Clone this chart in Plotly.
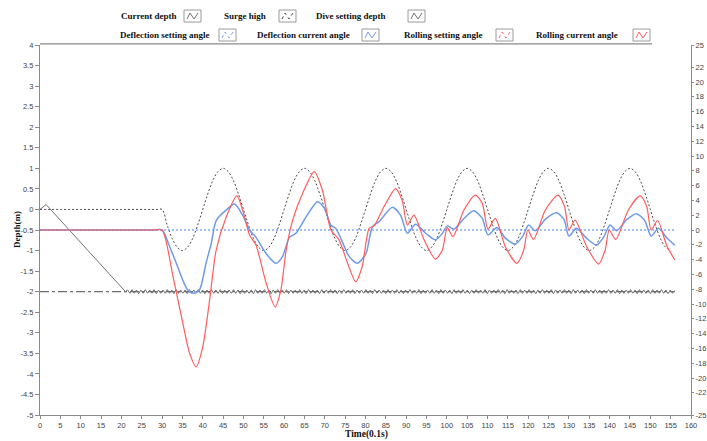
import numpy as np
import plotly.graph_objects as go

# ---- data -------------------------------------------------------------
# Current depth (m): start-up ramp, then small oscillation around -2 m
depth_ramp_t = [0.0, 1.5]
depth_ramp_v = [0.0, 0.12]
depth_osc_v = [
    -2.00, -1.96, -2.04, -1.95, -2.04, -1.96, -2.05, -1.96, -2.04, -1.95,
    -2.04, -1.96, -2.04, -1.95, -2.05, -1.96, -2.04, -1.96, -2.04, -1.95,
    -2.04, -1.96, -2.05, -1.95, -2.04, -1.96, -2.04, -1.96, -2.05, -1.95,
    -2.04, -1.96, -2.04, -1.95, -2.04, -1.96, -2.05, -1.96, -2.04, -1.95,
    -2.04, -1.96, -2.04, -1.95, -2.05, -1.96, -2.04, -1.96, -2.04, -1.95,
    -2.04, -1.96, -2.05, -1.95, -2.04, -1.96, -2.04, -1.96, -2.05, -1.95,
    -2.04, -1.96, -2.04, -1.95, -2.04, -1.96, -2.05, -1.96, -2.04, -1.95,
    -2.04, -1.96, -2.04, -1.95, -2.05, -1.96, -2.04, -1.96, -2.04, -1.95,
    -2.04, -1.96, -2.05, -1.95, -2.04, -1.96, -2.04, -1.96, -2.05, -1.95,
    -2.04, -1.96, -2.04, -1.95, -2.04, -1.96, -2.05, -1.96, -2.04, -1.95,
    -2.04, -1.96, -2.04, -1.95, -2.05, -1.96, -2.04, -1.96, -2.04, -1.95,
    -2.04, -1.96, -2.05, -1.95, -2.04, -1.96, -2.04, -1.96, -2.05, -1.95,
    -2.04, -1.96, -2.04, -1.95, -2.04, -1.96, -2.05, -1.96, -2.04, -1.95,
    -2.04, -1.96, -2.04, -1.95, -2.05, -1.96, -2.04, -1.96, -2.04, -1.95,
    -2.04, -1.96, -2.05, -1.95, -2.04, -1.96, -2.04, -1.96, -2.05, -1.95,
    -2.04, -1.96, -2.04, -1.95, -2.04, -1.96, -2.05, -1.96, -2.04, -1.95,
    -2.04, -1.96, -2.04, -1.95, -2.05, -1.96, -2.04, -1.96, -2.04, -1.95,
    -2.04, -1.96, -2.05, -1.95, -2.04, -1.96, -2.04, -1.96, -2.05, -1.95,
    -2.04, -1.96, -2.04, -1.95, -2.04, -1.96, -2.05, -1.96, -2.04, -1.95,
    -2.04, -1.96, -2.04, -1.95, -2.05, -1.96, -2.04, -1.96, -2.04, -1.95,
    -2.04, -1.96, -2.05, -1.95, -2.04, -1.96, -2.04, -1.96, -2.05, -1.95,
    -2.04, -1.96, -2.04, -1.95, -2.04, -1.96, -2.05, -1.96, -2.04, -1.95,
    -2.04, -1.96, -2.04, -1.95, -2.05, -1.96, -2.04, -1.96, -2.04, -1.95,
    -2.04, -1.96, -2.05, -1.95, -2.04, -1.96, -2.04, -1.96, -2.05, -1.95,
    -2.04, -1.96, -2.04, -1.95, -2.04, -1.96, -2.05, -1.96, -2.04, -1.97,
]
depth_osc_start, depth_osc_end = 21.0, 156.0

# Surge high (m): flat, then a wave from t = 30
surge_flat_t = [0.0, 10.0, 20.0, 27.5, 28.75]
surge_flat_v = [0.0, 0.0, 0.0, 0.0, 0.0]
surge_wave_v = [
    0.00, -0.38, -0.71, -0.92, -1.00, -0.92, -0.71, -0.38,
    0.00, 0.38, 0.71, 0.92, 1.00, 0.92, 0.71, 0.38,
    0.00, -0.38, -0.71, -0.92, -1.00, -0.92, -0.71, -0.38,
    0.00, 0.38, 0.71, 0.92, 1.00, 0.92, 0.71, 0.38,
    0.00, -0.38, -0.71, -0.92, -1.00, -0.92, -0.71, -0.38,
    0.00, 0.38, 0.71, 0.92, 1.00, 0.92, 0.71, 0.38,
    0.00, -0.38, -0.71, -0.92, -1.00, -0.92, -0.71, -0.38,
    0.00, 0.38, 0.71, 0.92, 1.00, 0.92, 0.71, 0.38,
    0.00, -0.38, -0.71, -0.92, -1.00, -0.92, -0.71, -0.38,
    0.00, 0.38, 0.71, 0.92, 1.00, 0.92, 0.71, 0.38,
    0.00, -0.38, -0.71, -0.92, -1.00, -0.92, -0.71, -0.38,
    0.00, 0.38, 0.71, 0.92, 1.00, 0.92, 0.71, 0.38,
    0.00, -0.38, -0.71, -0.92, -1.00,
]
surge_wave_start, surge_wave_end = 30.0, 155.0

# Dive setting depth (m)
dive_t = [0.0, 156.0]
dive_v = [-2.0, -2.0]

# Setting angles (deg)
defl_set_t = [0.0, 156.0]
defl_set_v = [0.0, 0.0]
roll_set_t = [0.0, 156.0]
roll_set_v = [0.0, 0.0]

# Deflection current angle (deg)
defl_t = [0, 28, 30, 31.9, 33.5, 35.1, 36.3, 37.6, 39.2, 40.8, 42.1, 43.3,
          45.8, 47.8, 49.8, 51.5, 53.1, 55.6, 58.0, 59.6, 61.3, 62.9, 65.4,
          68.2, 69.9, 71.5, 72.7, 74.0, 76.0, 78.0, 80.1, 81.7, 83.3, 86.6,
          88.6, 90.3, 92.3, 94.8, 97.2, 98.9, 100.1, 101.7, 104.2, 106.6,
          108.7, 110.1, 112.3, 114.4, 116.8, 118.6, 120.1, 121.7, 124.3,
          127.0, 128.8, 130.0, 131.9, 134.3, 136.8, 138.6, 140.1, 141.7,
          144.2, 146.6, 148.6, 150.2, 152.0, 154.0, 156.0]
defl_v = [0, 0, 0, -2.3, -4.5, -6.8, -8.1, -8.56, -8.1, -4.5, -1.8, 1.28,
          2.72, 3.5, 2.0, 0.0, -1.0, -3.2, -4.5, -3.6, -1.0, -0.44, 1.78,
          3.83, 2.94, 0.67, 0.2, -1.2, -3.6, -4.5, -3.2, 0.44, 1.1, 3.06,
          2.0, -0.44, 0.78, -0.44, -1.33, -0.44, 0.56, 0.1, 1.56, 2.6,
          1.56, -0.67, 0.33, -1.1, -1.9, -0.9, 0.67, -0.1, 1.5,
          2.33, 1.4, -0.83, 0.22, -1.1, -2.05, -0.9, 0.67, -0.1,
          1.4, 2.2, 1.3, -0.83, 0.22, -1.0, -2.05]

# Rolling current angle (deg)
roll_t = [0, 28, 30, 32.7, 35.1, 36.8, 38.4, 40.0, 41.7, 43.3, 45.8, 48.4,
          49.8, 51.5, 53.1, 55.6, 57.8, 59.2, 60.5, 62.1, 64.5, 67.4, 69.4,
          71.5, 73.5, 75.6, 77.6, 79.2, 80.9, 82.1, 84.6, 87.4, 89.0, 90.3,
          91.9, 94.4, 97.2, 98.9, 100.1, 101.5, 104.2, 107.0, 108.7, 110.1,
          111.9, 114.4, 117.2, 118.9, 119.9, 121.3, 124.2, 127.3, 128.9,
          130.0, 131.5, 134.4, 137.3, 138.9, 139.9, 141.5, 144.6, 147.5,
          149.1, 150.2, 151.8, 154.0, 156.0]
roll_v = [0, 0, 0, -6.3, -12.6, -16.7, -18.5, -15.8, -9.4, -2.72, 1.78, 4.6,
          2.7, -0.67, -2.05, -7.2, -10.4, -8.1, -2.72, 1.33, 4.9, 7.9, 5.4,
          0.0, -1.33, -4.5, -7.0, -4.9, 0.22, 0.56, 3.2, 5.6, 4.0, 0.67,
          2.0, -1.33, -3.94, -2.7, 0.33, -0.89, 2.7, 4.72, 3.6, 0.11,
          1.56, -2.3, -4.5, -2.7, 0.0, -1.28, 2.7, 4.72, 3.2,
          0.0, 1.33, -2.3, -4.6, -2.7, 0.0, -1.28, 2.7, 4.6,
          3.2, 0.0, 1.28, -2.05, -4.05]

x_ticks = list(range(0, 161, 5))
y_ticks = [v / 2 for v in range(-10, 9)]
y2_ticks = [-25, -22, -20, -18, -16, -14, -12, -10, -8, -6, -4, -2, 0,
            2, 4, 6, 8, 10, 12, 14, 16, 18, 20, 22, 25]

# ---- colours ----------------------------------------------------------
C_DEPTH = "#707070"
C_SURGE = "#4a4a4a"
C_DIVE = "#6e6e6e"
C_BLUE = "#6f9be9"
C_BLUE_DOT = "#86aaf0"
C_RED = "#ff5c5c"

# ---- figure -----------------------------------------------------------
depth_t = depth_ramp_t + list(np.linspace(depth_osc_start, depth_osc_end, len(depth_osc_v)))
depth_v = depth_ramp_v + depth_osc_v
surge_t = surge_flat_t + list(np.linspace(surge_wave_start, surge_wave_end, len(surge_wave_v)))
surge_v = surge_flat_v + surge_wave_v

fig = go.Figure()
fig.add_trace(go.Scatter(x=dive_t, y=dive_v, name="Dive setting depth", mode="lines",
                         line=dict(color=C_DIVE, width=1.3, dash="dashdot")))
fig.add_trace(go.Scatter(x=depth_t, y=depth_v, name="Current depth", mode="lines",
                         line=dict(color=C_DEPTH, width=1.0)))
fig.add_trace(go.Scatter(x=surge_t, y=surge_v, name="Surge high", mode="lines",
                         line=dict(color=C_SURGE, width=1.0, dash="2px,2px", shape="spline")))
# the rolling set-point sits on the same zero line and is fully covered by the deflection one
fig.add_trace(go.Scatter(x=roll_set_t, y=roll_set_v, name="Rolling setting angle", mode="lines",
                         yaxis="y2", opacity=0.0, line=dict(color=C_RED, width=1.0, dash="2px,2px")))
fig.add_trace(go.Scatter(x=defl_set_t, y=defl_set_v, name="Deflection setting angle", mode="lines",
                         yaxis="y2", line=dict(color=C_BLUE_DOT, width=1.4, dash="2px,2px")))
fig.add_trace(go.Scatter(x=defl_t, y=defl_v, name="Deflection current angle", mode="lines",
                         yaxis="y2", line=dict(color=C_BLUE, width=1.5, shape="spline", smoothing=0.7)))
fig.add_trace(go.Scatter(x=roll_t, y=roll_v, name="Rolling current angle", mode="lines",
                         yaxis="y2", line=dict(color=C_RED, width=1.2, shape="spline", smoothing=0.7)))

# ---- hand-built legend (text followed by a small swatch box) ----------
L, T, W, H = 40, 45, 651, 370


def px(xp, yp):
    return (xp - L) / W, 1 - (yp - T) / H


legend_items = [
    ("Current depth", 119, 16, 184, C_DEPTH, "solid"),
    ("Surge high", 222, 16, 279, C_SURGE, "dot"),
    ("Dive setting depth", 314, 16, 408, C_DIVE, "solid"),
    ("Deflection setting angle", 118, 35, 219, C_BLUE, "dot"),
    ("Deflection current angle", 255, 35, 362, C_BLUE, "solid"),
    ("Rolling setting angle", 402, 35, 496, C_RED, "dot"),
    ("Rolling current angle", 534, 35, 633, C_RED, "solid"),
]

shapes = []
annotations = []
for label, tx, ty, bx, col, dash in legend_items:
    ax, ay = px(tx, ty)
    annotations.append(dict(text=f"<b>{label}</b>", x=ax, y=ay, xref="paper", yref="paper",
                            xanchor="left", yanchor="middle", showarrow=False,
                            font=dict(family="Liberation Serif", size=9, color="#111")))
    x0, y0 = px(bx, ty - 6)
    x1, y1 = px(bx + 17, ty + 6)
    shapes.append(dict(type="rect", xref="paper", yref="paper", x0=x0, y0=y0, x1=x1, y1=y1,
                       line=dict(color="#9a9a9a", width=1), fillcolor="white"))
    pts = [(bx + 3, ty + 3), (bx + 6, ty - 3), (bx + 10, ty + 3), (bx + 14, ty - 3)]
    path = "M " + " L ".join(f"{px(a, b)[0]:.5f},{px(a, b)[1]:.5f}" for a, b in pts)
    shapes.append(dict(type="path", xref="paper", yref="paper", path=path,
                       line=dict(color=col, width=1, dash=dash)))

# rule under the legend / top edge of the plot
shapes.append(dict(type="line", xref="paper", yref="paper", x0=0, x1=(652 - L) / W,
                   y0=1.003, y1=1.003, line=dict(color="#8a8a8a", width=1.2)))

# axis titles
tx, ty = px(366, 441)
annotations.append(dict(text="<b>Time(0.1s)</b>", x=tx, y=ty, xref="paper", yref="paper",
                        xanchor="center", yanchor="bottom", showarrow=False, borderpad=0,
                        font=dict(family="Liberation Serif", size=9.5, color="#111")))
tx, ty = px(17, 230)
annotations.append(dict(text="<b>Depth(m)</b>", x=tx, y=ty, xref="paper", yref="paper",
                        xanchor="center", yanchor="middle", showarrow=False, textangle=-90,
                        font=dict(family="Liberation Serif", size=9, color="#111")))

tick_font = dict(family="Liberation Sans", size=7.5, color="#444")
axis_common = dict(showgrid=False, zeroline=False, showline=True, linecolor="#8a8a8a",
                   linewidth=1.2, ticks="outside", tickcolor="#8a8a8a",
                   tickfont=tick_font, automargin=False)

fig.update_layout(
    width=707, height=441,
    margin=dict(l=L, r=707 - L - W, t=T, b=441 - T - H, autoexpand=False),
    paper_bgcolor="white", plot_bgcolor="white",
    showlegend=False,
    shapes=shapes, annotations=annotations,
    xaxis=dict(range=[0, 160], tickvals=x_ticks, ticktext=[str(v) for v in x_ticks],
               ticklen=3, **axis_common),
    yaxis=dict(range=[-5, 4], tickvals=y_ticks,
               ticktext=[f"{v:g}" for v in y_ticks], ticklen=4,
               **axis_common),
    yaxis2=dict(range=[-25, 25], tickvals=y2_ticks, ticktext=[str(v) for v in y2_ticks],
                overlaying="y", side="right", ticklen=2, **axis_common),
)

fig.write_html("out.html")
